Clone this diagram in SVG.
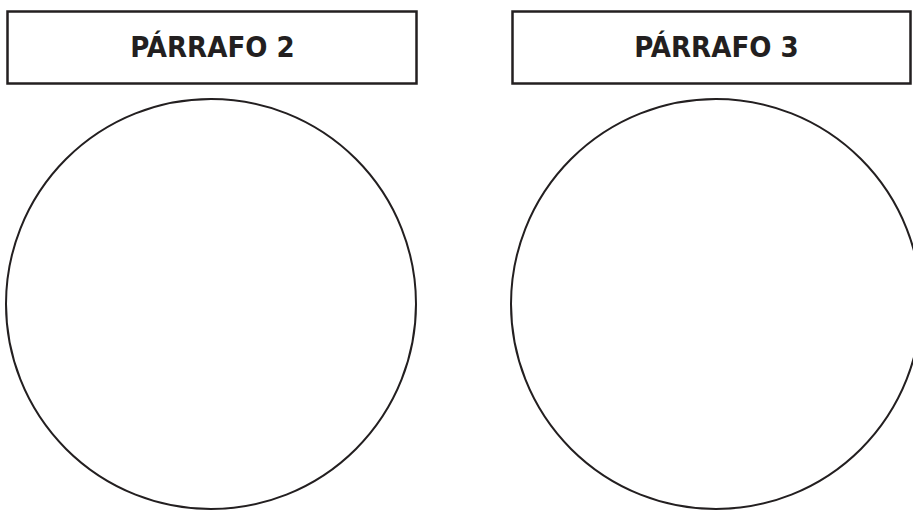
<svg xmlns="http://www.w3.org/2000/svg" width="913" height="511" viewBox="0 0 913 511">
<style>
.box{fill:#fff;stroke:#231f20;stroke-width:2.5}
.circ{fill:none;stroke:#231f20;stroke-width:2}
.lbl{font-family:"DejaVu Sans Condensed","DejaVu Sans",sans-serif;font-weight:bold;font-size:29px;fill:#231f20;text-anchor:middle}
</style>
<rect width="913" height="511" fill="#fff"/>
<g id="p2">
<rect class="box" x="7.5" y="11.5" width="409" height="72"/>
<text class="lbl" x="212.5" y="57">PÁRRAFO 2</text>
<circle class="circ" cx="211" cy="304" r="205"/>
</g>
<g id="p3">
<rect class="box" x="512.5" y="11.5" width="398" height="72"/>
<text class="lbl" x="716.5" y="57">PÁRRAFO 3</text>
<circle class="circ" cx="716" cy="304" r="205"/>
</g>
<g id="connectors"/>
</svg>
